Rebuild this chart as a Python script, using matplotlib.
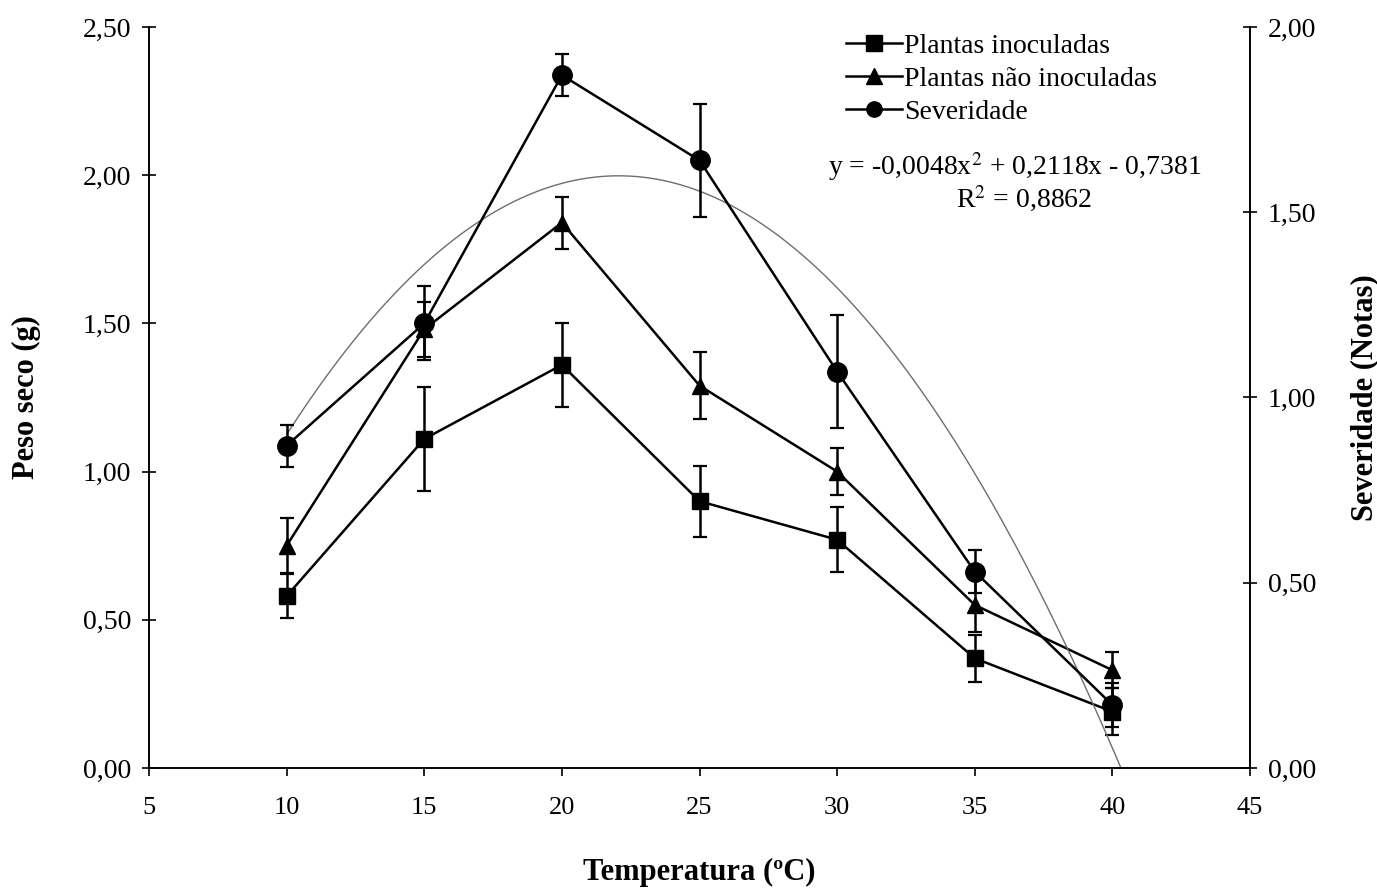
import numpy as np
import matplotlib
matplotlib.use("Agg")
import matplotlib.pyplot as plt
from matplotlib.ticker import FuncFormatter
from matplotlib.lines import Line2D

plt.rcParams['font.family'] = ['Liberation Serif', 'DejaVu Serif']
plt.rcParams['mathtext.fontset'] = 'stix'

temps = [10, 15, 20, 25, 30, 35, 40]
inoculadas = [0.58, 1.11, 1.36, 0.90, 0.77, 0.37, 0.19]
inoculadas_err = [0.075, 0.174, 0.142, 0.12, 0.11, 0.08, 0.08]
nao_inoculadas = [0.75, 1.48, 1.84, 1.29, 1.00, 0.55, 0.33]
nao_inoculadas_err = [0.093, 0.092, 0.088, 0.113, 0.079, 0.09, 0.06]
severidade = [0.87, 1.20, 1.87, 1.64, 1.07, 0.53, 0.17]
severidade_err = [0.057, 0.10, 0.057, 0.153, 0.153, 0.057, 0.06]
fit_coef = [-0.0048, 0.2118, -0.7381]

left_ticks = [0, 0.5, 1.0, 1.5, 2.0, 2.5]
right_ticks = [0, 0.5, 1.0, 1.5, 2.0]
x_ticks = [5, 10, 15, 20, 25, 30, 35, 40, 45]

fig = plt.figure(figsize=(13.77, 8.93), dpi=100)
ax = fig.add_axes([0.1082, 0.14, 0.7996, 0.8298])
ax2 = ax.twinx()

lw = 1.8
ekw = dict(elinewidth=1.8, capsize=5, capthick=1.6)
ax.errorbar(temps, inoculadas, yerr=inoculadas_err, color='black', marker='s',
            markersize=12, linewidth=lw, **ekw)
ax.errorbar(temps, nao_inoculadas, yerr=nao_inoculadas_err, color='black', marker='^',
            markersize=12, linewidth=lw, **ekw)
ax2.errorbar(temps, severidade, yerr=severidade_err, color='black', marker='o',
             markersize=14, linewidth=lw, **ekw)

xf = np.linspace(temps[0], temps[-1] + 0.3, 300)
yf = np.polyval(fit_coef, xf)
ax2.plot(xf, yf, color='#6e6e6e', linewidth=1.0, zorder=1)

fmt = FuncFormatter(lambda v, p: f"{v:.2f}".replace('.', ','))
ax.set_xlim(5, 45)
ax.set_ylim(0, 2.5)
ax2.set_ylim(0, 2.0)
ax.set_xticks(x_ticks)
ax.set_yticks(left_ticks)
ax2.set_yticks(right_ticks)
ax.yaxis.set_major_formatter(fmt)
ax2.yaxis.set_major_formatter(fmt)

for a in (ax, ax2):
    a.spines['top'].set_visible(False)
    for s in a.spines.values():
        s.set_linewidth(1.2)
ax.tick_params(axis='y', direction='inout', length=10, width=1.2, labelsize=20, pad=8)
ax2.tick_params(axis='y', direction='inout', length=10, width=1.2, labelsize=20, pad=8)
ax.tick_params(axis='x', direction='out', length=6, width=1.2, labelsize=19, pad=15)

ax.set_xlabel('Temperatura (ºC)', fontsize=22, fontweight='bold', labelpad=28)
ax.set_ylabel('Peso seco (g)', fontsize=22, fontweight='bold', labelpad=30)
ax2.set_ylabel('Severidade (Notas)', fontsize=22, fontweight='bold', labelpad=24)

handles = [
    Line2D([], [], color='black', marker='s', markersize=11, linewidth=lw),
    Line2D([], [], color='black', marker='^', markersize=11, linewidth=lw),
    Line2D([], [], color='black', marker='o', markersize=11, linewidth=lw),
]
labels = ['Plantas inoculadas', 'Plantas não inoculadas', 'Severidade']
ax2.legend(handles, labels, loc='upper left', bbox_to_anchor=(0.623, 1.006),
           frameon=False, fontsize=20, handlelength=2.0, handletextpad=0.1,
           labelspacing=0.27, borderaxespad=0)

ax2.text(0.786, 0.812, 'y = -0,0048x$^2$ + 0,2118x - 0,7381', transform=ax.transAxes,
         ha='center', va='center', fontsize=20)
ax2.text(0.795, 0.768, 'R$^2$ = 0,8862', transform=ax.transAxes,
         ha='center', va='center', fontsize=20)

fig.savefig('out.png', dpi=100)
